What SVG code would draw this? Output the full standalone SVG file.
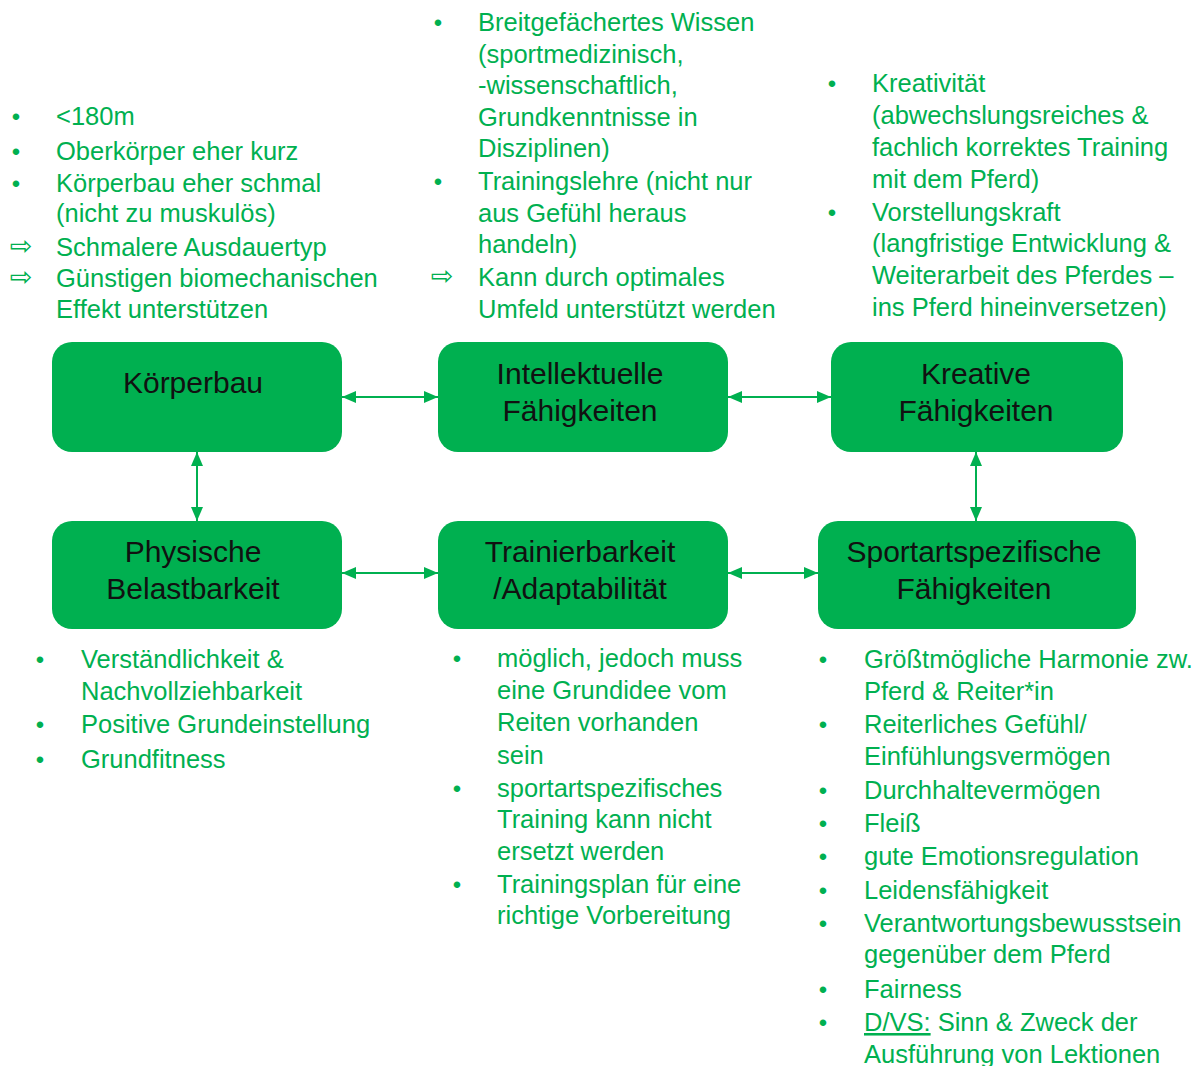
<svg xmlns="http://www.w3.org/2000/svg" width="1202" height="1066" viewBox="0 0 1202 1066">
<style>
.box{fill:#00B050}
.bt{font-family:"Liberation Sans",Arial,sans-serif;font-size:30px;fill:#111;text-anchor:middle}
.gt{font-family:"Liberation Sans",Arial,sans-serif;font-size:25.5px;fill:#00B050}
.bu{font-family:"Liberation Sans",Arial,sans-serif;font-size:24px;fill:#00B050;text-anchor:middle}
.ar{font-family:"DejaVu Sans",sans-serif;font-size:27px;fill:#00B050;text-anchor:middle}
.con{stroke:#00B050;stroke-width:2;fill:none;marker-start:url(#ah);marker-end:url(#ah)}
</style>
<defs>
<marker id="ah" viewBox="0 0 14 12" refX="14" refY="6" markerWidth="14" markerHeight="12" markerUnits="userSpaceOnUse" orient="auto-start-reverse">
<path d="M0,0 L14,6 L0,12 z" fill="#00B050"/>
</marker>
</defs>
<rect width="1202" height="1066" fill="#fff"/>

<g id="connectors">
<line class="con" x1="342" y1="397" x2="438" y2="397"/>
<line class="con" x1="728" y1="397" x2="831" y2="397"/>
<line class="con" x1="342" y1="573" x2="438" y2="573"/>
<line class="con" x1="728" y1="573" x2="818" y2="573"/>
<line class="con" x1="197" y1="452" x2="197" y2="521"/>
<line class="con" x1="976" y1="452" x2="976" y2="521"/>
</g>

<g id="node-koerperbau">
<rect class="box" x="52" y="342" width="290" height="110" rx="20"/>
<text class="bt" x="193" y="393">Körperbau</text>
</g>
<g id="node-intellektuelle">
<rect class="box" x="438" y="342" width="290" height="110" rx="20"/>
<text class="bt" x="580" y="384">Intellektuelle</text>
<text class="bt" x="580" y="421">Fähigkeiten</text>
</g>
<g id="node-kreative">
<rect class="box" x="831" y="342" width="292" height="110" rx="20"/>
<text class="bt" x="976" y="384">Kreative</text>
<text class="bt" x="976" y="421">Fähigkeiten</text>
</g>
<g id="node-physische">
<rect class="box" x="52" y="521" width="290" height="108" rx="20"/>
<text class="bt" x="193" y="562">Physische</text>
<text class="bt" x="193" y="599">Belastbarkeit</text>
</g>
<g id="node-trainierbarkeit">
<rect class="box" x="438" y="521" width="290" height="108" rx="20"/>
<text class="bt" x="580" y="562">Trainierbarkeit</text>
<text class="bt" x="580" y="599">/Adaptabilität</text>
</g>
<g id="node-sportart">
<rect class="box" x="818" y="521" width="318" height="108" rx="20"/>
<text class="bt" x="974" y="562">Sportartspezifische</text>
<text class="bt" x="974" y="599">Fähigkeiten</text>
</g>

<g id="text-koerperbau">
<text class="bu" x="16" y="125">•</text>
<text class="gt" x="56" y="125">&lt;180m</text>
<text class="bu" x="16" y="160">•</text>
<text class="gt" x="56" y="160">Oberkörper eher kurz</text>
<text class="bu" x="16" y="192">•</text>
<text class="gt" x="56" y="192">Körperbau eher schmal</text>
<text class="gt" x="56" y="222">(nicht zu muskulös)</text>
<text class="ar" x="21" y="255">⇨</text>
<text class="gt" x="56" y="256">Schmalere Ausdauertyp</text>
<text class="ar" x="21" y="286">⇨</text>
<text class="gt" x="56" y="287">Günstigen biomechanischen</text>
<text class="gt" x="56" y="318">Effekt unterstützen</text>
</g>

<g id="text-intellektuelle">
<text class="bu" x="438" y="31">•</text>
<text class="gt" x="478" y="31">Breitgefächertes Wissen</text>
<text class="gt" x="478" y="63">(sportmedizinisch,</text>
<text class="gt" x="478" y="94">-wissenschaftlich,</text>
<text class="gt" x="478" y="126">Grundkenntnisse in</text>
<text class="gt" x="478" y="157">Disziplinen)</text>
<text class="bu" x="438" y="190">•</text>
<text class="gt" x="478" y="190">Trainingslehre (nicht nur</text>
<text class="gt" x="478" y="222">aus Gefühl heraus</text>
<text class="gt" x="478" y="253">handeln)</text>
<text class="ar" x="442" y="285">⇨</text>
<text class="gt" x="478" y="286">Kann durch optimales</text>
<text class="gt" x="478" y="318">Umfeld unterstützt werden</text>
</g>

<g id="text-kreative">
<text class="bu" x="832" y="92">•</text>
<text class="gt" x="872" y="92">Kreativität</text>
<text class="gt" x="872" y="124">(abwechslungsreiches &amp;</text>
<text class="gt" x="872" y="156">fachlich korrektes Training</text>
<text class="gt" x="872" y="188">mit dem Pferd)</text>
<text class="bu" x="832" y="221">•</text>
<text class="gt" x="872" y="221">Vorstellungskraft</text>
<text class="gt" x="872" y="252">(langfristige Entwicklung &amp;</text>
<text class="gt" x="872" y="284">Weiterarbeit des Pferdes –</text>
<text class="gt" x="872" y="316">ins Pferd hineinversetzen)</text>
</g>

<g id="text-physische">
<text class="bu" x="40" y="668">•</text>
<text class="gt" x="81" y="668">Verständlichkeit &amp;</text>
<text class="gt" x="81" y="700">Nachvollziehbarkeit</text>
<text class="bu" x="40" y="733">•</text>
<text class="gt" x="81" y="733">Positive Grundeinstellung</text>
<text class="bu" x="40" y="768">•</text>
<text class="gt" x="81" y="768">Grundfitness</text>
</g>

<g id="text-trainierbarkeit">
<text class="bu" x="457" y="667">•</text>
<text class="gt" x="497" y="667">möglich, jedoch muss</text>
<text class="gt" x="497" y="699">eine Grundidee vom</text>
<text class="gt" x="497" y="731">Reiten vorhanden</text>
<text class="gt" x="497" y="764">sein</text>
<text class="bu" x="457" y="797">•</text>
<text class="gt" x="497" y="797">sportartspezifisches</text>
<text class="gt" x="497" y="828">Training kann nicht</text>
<text class="gt" x="497" y="860">ersetzt werden</text>
<text class="bu" x="457" y="893">•</text>
<text class="gt" x="497" y="893">Trainingsplan für eine</text>
<text class="gt" x="497" y="924">richtige Vorbereitung</text>
</g>

<g id="text-sportart">
<text class="bu" x="823" y="668">•</text>
<text class="gt" x="864" y="668">Größtmögliche Harmonie zw.</text>
<text class="gt" x="864" y="700">Pferd &amp; Reiter*in</text>
<text class="bu" x="823" y="733">•</text>
<text class="gt" x="864" y="733">Reiterliches Gefühl/</text>
<text class="gt" x="864" y="765">Einfühlungsvermögen</text>
<text class="bu" x="823" y="799">•</text>
<text class="gt" x="864" y="799">Durchhaltevermögen</text>
<text class="bu" x="823" y="832">•</text>
<text class="gt" x="864" y="832">Fleiß</text>
<text class="bu" x="823" y="865">•</text>
<text class="gt" x="864" y="865">gute Emotionsregulation</text>
<text class="bu" x="823" y="899">•</text>
<text class="gt" x="864" y="899">Leidensfähigkeit</text>
<text class="bu" x="823" y="932">•</text>
<text class="gt" x="864" y="932">Verantwortungsbewusstsein</text>
<text class="gt" x="864" y="963">gegenüber dem Pferd</text>
<text class="bu" x="823" y="998">•</text>
<text class="gt" x="864" y="998">Fairness</text>
<text class="bu" x="823" y="1031">•</text>
<text class="gt" x="864" y="1031"><tspan text-decoration="underline">D/VS:</tspan> Sinn &amp; Zweck der</text>
<text class="gt" x="864" y="1063">Ausführung von Lektionen</text>
</g>
</svg>
